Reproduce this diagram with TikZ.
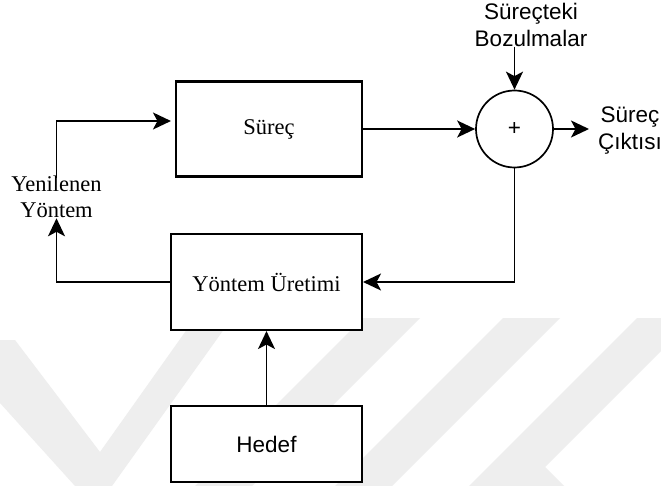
\documentclass[tikz,border=0pt]{standalone}
\usepackage{fontspec}
\setmainfont{Liberation Serif}
\newfontfamily\hvsans{Liberation Sans}
\usetikzlibrary{arrows.meta}
\definecolor{wmark}{RGB}{238,238,238}

\begin{document}
\begin{tikzpicture}[x=1pt,y=-1pt,
  serifbig/.style={font=\fontsize{22.5}{26.7}\selectfont},
  sansbig/.style={font=\hvsans\fontsize{22.5}{26.7}\selectfont},
  blockbox/.style={draw, line width=2.1pt, fill=white, inner sep=0, serifbig},
  sumnode/.style={circle, draw, line width=1.7pt, fill=white, minimum size=77pt, inner sep=0, sansbig},
  lbl/.style={inner sep=0, align=center},
  conn/.style={line width=1.8pt, -{Stealth[length=18pt,width=17pt,inset=4.5pt]}}]

% canvas
\useasboundingbox (0,0) rectangle (661,486);
\fill[white] (0,0) rectangle (661,486);

% faint background mark: a chevron and three slanted bands
\fill[wmark] (0,340) -- (15,340) -- (100,452) -- (195,318) -- (232,318)
  -- (112,486) -- (75,486) -- (0,403) -- cycle;
\fill[wmark] (363,318) -- (420,318) -- (252,486) -- (195,486) -- cycle;
\fill[wmark] (503,318) -- (560,318) -- (392,486) -- (335,486) -- cycle;
\fill[wmark] (637,318) -- (694,318) -- (545,467) -- (564,486) -- (469,486) -- cycle;

% blocks
\node[blockbox, minimum width=186pt, minimum height=95pt] (sur) at (269,129) {Süreç};
\node[blockbox, minimum width=191pt, minimum height=96pt] (yon) at (266.5,282) {Yöntem Üretimi};
\node[blockbox, sansbig, minimum width=191pt, minimum height=76pt] (hed) at (266.5,444) {Hedef};
\node[sumnode] (sum) at (514.5,129) {+};

% labels
\node[lbl, sansbig, anchor=south] (boz) at (531,46.7) {Süreçteki\\Bozulmalar};
\node[lbl, sansbig, anchor=west, inner xsep=9pt] (out) at (589,130.5) {Süreç\\Çıktısı};
\node[lbl, serifbig, anchor=south] (yy) at (56.5,218.3) {Yenilenen\\Yöntem};

% connectors
\draw[conn] (sur.east) -- (sum.west);
\draw[conn] (sum.east) -- (sum.east -| out.west);
\draw[conn] (boz.south -| sum.north) -- (sum.north);
\draw[conn] (sum.south) |- (yon.east);
\draw[conn] (hed.north) -- (yon.south);
\draw[conn] (yon.west) -| (yy.south);
\draw[conn, shorten >=4pt] ([yshift=-3pt]yy.north) |- ([yshift=8pt]sur.west);
\end{tikzpicture}
\end{document}
